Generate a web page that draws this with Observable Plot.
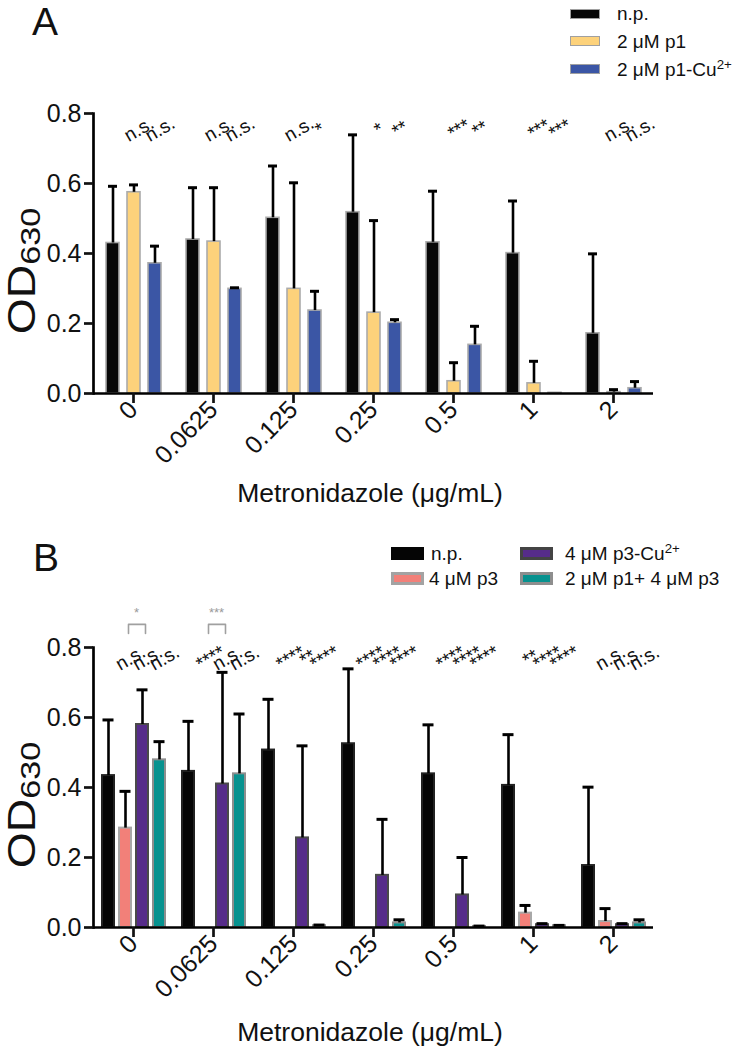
<!DOCTYPE html>
<html>
<head>
<meta charset="utf-8">
<script src="https://cdn.jsdelivr.net/npm/d3@7"></script>
<script src="https://cdn.jsdelivr.net/npm/@observablehq/plot@0.6"></script>
<style>
  body { margin: 0; background: #fff; }
  #root { position: relative; width: 735px; height: 1050px; overflow: hidden;
          font-family: "Liberation Sans", Arial, Helvetica, sans-serif; color: #111; }
  .abs { position: absolute; line-height: 1; white-space: nowrap; }
  .sw { position: absolute; box-sizing: border-box; }
  .panel { position: absolute; left: 0; }
  sup, sub { line-height: 0; }
</style>
</head>
<body>
<div id="root"></div>
<script>
// ---------------- data ----------------
const doses = ["0", "0.0625", "0.125", "0.25", "0.5", "1", "2"];

// Panel A
const seriesA = ["n.p.", "2 μM p1", "2 μM p1-Cu2+"];
const npA       = [0.430, 0.440, 0.502, 0.518, 0.432, 0.401, 0.172];
const npAErr    = [0.162, 0.148, 0.148, 0.221, 0.146, 0.149, 0.227];
const p1A       = [0.575, 0.434, 0.299, 0.231, 0.035, 0.029, 0.004];
const p1AErr    = [0.021, 0.154, 0.303, 0.263, 0.053, 0.063, 0.007];
const p1CuA     = [0.372, 0.299, 0.237, 0.202, 0.139, 0.002, 0.015];
const p1CuAErr  = [0.049, 0.003, 0.055, 0.009, 0.053, 0.000, 0.019];
const sigA_p1   = ["n.s.", "n.s.", "n.s.", "*", "***", "***", "n.s."];
const sigA_p1Cu = ["n.s.", "n.s.", "*", "**", "**", "***", "n.s."];

// Panel B
const seriesB = ["n.p.", "4 μM p3", "4 μM p3-Cu2+", "2 μM p1+ 4 μM p3"];
const npB       = [0.434, 0.446, 0.507, 0.525, 0.439, 0.406, 0.177];
const npBErr    = [0.159, 0.143, 0.145, 0.214, 0.140, 0.145, 0.224];
const p3B       = [0.284, 0.000, 0.000, 0.000, 0.000, 0.041, 0.017];
const p3BErr    = [0.105, 0.000, 0.000, 0.000, 0.000, 0.022, 0.037];
const p3CuB     = [0.580, 0.410, 0.256, 0.149, 0.093, 0.008, 0.008];
const p3CuBErr  = [0.099, 0.319, 0.263, 0.160, 0.107, 0.003, 0.003];
const mixB      = [0.479, 0.439, 0.005, 0.013, 0.003, 0.005, 0.013];
const mixBErr   = [0.052, 0.171, 0.002, 0.009, 0.001, 0.001, 0.009];
const sigB_p3   = ["n.s.", "****", "****", "****", "****", "**", "n.s."];
const sigB_p3Cu = ["n.s.", "n.s.", "**", "****", "****", "****", "n.s."];
const sigB_mix  = ["n.s.", "n.s.", "****", "****", "****", "****", "n.s."];
// p3 vs p3-Cu comparisons (grey brackets)
const bracketDoses  = ["0", "0.0625"];
const bracketLabels = ["*", "***"];

const yTicks = [0, 0.2, 0.4, 0.6, 0.8];

// ---------------- panel builder ----------------
function makePanel(cfg) {
  const rows = [];
  cfg.series.forEach((s, si) => doses.forEach((d, di) => {
    const v = cfg.means[si][di], e = cfg.errs[si][di];
    rows.push({dose: d, series: s, value: v, err: e, top: v + e});
  }));
  const withErr = rows.filter(r => r.err > 0);
  const sigRows = [];
  cfg.sigSeries.forEach((s, k) => doses.forEach((d, di) => sigRows.push({dose: d, series: s, text: cfg.sigs[k][di]})));

  const marks = [
    ...cfg.series.map((s, si) => Plot.barY(rows.filter(r => r.series === s && r.value > 0), {
      fx: "dose", x: "series", y: "value",
      fill: cfg.fills[si], stroke: cfg.strokes[si], strokeWidth: cfg.barStroke
    })),
    Plot.ruleX(withErr, {fx: "dose", x: "series", y1: "value", y2: "top", stroke: "#000", strokeWidth: 2.6}),
    Plot.tickY(withErr, {fx: "dose", x: "series", y: "top", stroke: "#000", strokeWidth: 3,
      insetLeft: cfg.capInset, insetRight: cfg.capInset}),
    Plot.ruleY([0], {stroke: "#000", strokeWidth: 2.7}),
    Plot.frame({anchor: "left", facetAnchor: "left", stroke: "#000", strokeWidth: 2.7}),
    Plot.axisY({ticks: yTicks, tickFormat: d3.format(".1f"), tickSize: 9, tickPadding: 3,
      fontSize: 25, strokeWidth: 2.7, label: null}),
    Plot.axisFx({anchor: "bottom", tickRotate: -45, tickSize: 10, tickPadding: 2,
      fontSize: 25, strokeWidth: 2.7, label: null}),
    Plot.text(sigRows, {fx: "dose", x: "series", y: cfg.sigY, text: "text", rotate: -30,
      dx: 5, fontSize: 19, fill: "#111"}),
    ...(cfg.extra || [])
  ];

  return Plot.plot({
    width: 735,
    height: cfg.height,
    marginLeft: 93,
    marginRight: 82,
    marginTop: cfg.marginTop,
    marginBottom: cfg.marginBottom,
    style: {fontFamily: '"Liberation Sans", Arial, sans-serif', color: "#111", background: "transparent", overflow: "visible"},
    fx: {domain: doses, padding: 0, label: null},
    x: {domain: cfg.series, paddingInner: cfg.padInner, paddingOuter: cfg.padOuter, axis: null},
    y: {domain: [0, 0.8], axis: null},
    marks
  });
}

// ---------------- panel A ----------------
const plotA = makePanel({
  series: seriesA,
  means: [npA, p1A, p1CuA],
  errs: [npAErr, p1AErr, p1CuAErr],
  fills: ["#070707", "#FDD27B", "#3B56A5"],
  strokes: ["#ababab", "#ababab", "#ababab"],
  barStroke: 1.6,
  capInset: 2,
  padInner: 0.395, padOuter: 0.558,
  sigSeries: [seriesA[1], seriesA[2]],
  sigs: [sigA_p1, sigA_p1Cu],
  sigY: 0.755,
  height: 470, marginTop: 113, marginBottom: 77
});

// ---------------- panel B ----------------
const bracketPts = [];
bracketDoses.forEach((d, i) => {
  bracketPts.push({id: i, dose: d, series: seriesB[1], y: 0.84});
  bracketPts.push({id: i, dose: d, series: seriesB[1], y: 0.866});
  bracketPts.push({id: i, dose: d, series: seriesB[2], y: 0.866});
  bracketPts.push({id: i, dose: d, series: seriesB[2], y: 0.84});
});
const bracketText = bracketDoses.map((d, i) => ({dose: d, series: seriesB[1], label: bracketLabels[i]}));

const plotB = makePanel({
  series: seriesB,
  means: [npB, p3B, p3CuB, mixB],
  errs: [npBErr, p3BErr, p3CuBErr, mixBErr],
  fills: ["#050505", "#F28079", "#562C8A", "#07928F"],
  strokes: ["#222222", "#a8a8a8", "#4a4a4a", "#8e8e8e"],
  barStroke: 2,
  capInset: 0.5,
  padInner: 0.31, padOuter: 0.467,
  sigSeries: [seriesB[1], seriesB[2], seriesB[3]],
  sigs: [sigB_p3, sigB_p3Cu, sigB_mix],
  sigY: 0.77,
  height: 470, marginTop: 117, marginBottom: 73,
  extra: [
    Plot.line(bracketPts, {fx: "dose", x: "series", y: "y", z: "id", dx: 3, stroke: "#a0a0a0", strokeWidth: 1.6}),
    Plot.text(bracketText, {fx: "dose", x: "series", y: 0.9, text: "label", dx: 11, fontSize: 13, fill: "#9a9a9a"})
  ]
});

// ---------------- layout ----------------
const root = document.getElementById("root");
function addPanel(svg, top) {
  const wrap = document.createElement("div");
  wrap.className = "panel";
  wrap.style.top = top + "px";
  wrap.appendChild(svg);
  root.appendChild(wrap);
}
addPanel(plotA, 0);
addPanel(plotB, 530);

function text(html, left, capCenter, size, extra = "") {
  const el = document.createElement("div");
  el.className = "abs";
  el.style.left = left + "px";
  el.style.top = (capCenter - 0.488 * size) + "px";
  el.style.fontSize = size + "px";
  if (extra) el.style.cssText += extra;
  el.innerHTML = html;
  root.appendChild(el);
  return el;
}
function swatch(left, center, w, h, fill, border, bw) {
  const el = document.createElement("div");
  el.className = "sw";
  el.style.left = left + "px";
  el.style.top = (center - h / 2) + "px";
  el.style.width = w + "px";
  el.style.height = h + "px";
  el.style.background = fill;
  el.style.border = bw + "px solid " + border;
  root.appendChild(el);
}
function rotLabel(cx, cy) {
  const el = document.createElement("div");
  el.className = "abs";
  el.style.left = cx + "px";
  el.style.top = cy + "px";
  el.style.fontSize = "38px";
  el.style.lineHeight = "0.9";
  el.style.transform = "translate(-50%,-50%) rotate(-90deg) scaleX(1.22)";
  el.innerHTML = 'OD<sub style="font-size:28px;vertical-align:-0.18em">630</sub>';
  root.appendChild(el);
}

// panel letters
text("A", 32, 21, 39);
text("B", 33, 557, 39);

// y titles
rotLabel(22, 271);
rotLabel(22, 805);

// x titles
const supCu = '<sup style="font-size:0.7em;vertical-align:0.5em">2+</sup>';
text("Metronidazole (μg/mL)", 370, 493, 26.5, "transform:translateX(-50%)");
text("Metronidazole (μg/mL)", 370, 1032, 26.5, "transform:translateX(-50%)");

// legend A
const legA = [[seriesA[0], "#070707"], ["2 μM p1", "#FDD27B"], ["2 μM p1-Cu" + supCu, "#3B56A5"]];
const legARows = [13.5, 41, 69];
legA.forEach(([lab, col], i) => {
  swatch(570, legARows[i], 30, 10, col, "#a0a0a0", 1.5);
  text(lab, 617, legARows[i], 19);
});

// legend B
swatch(391, 553.5, 33, 13, "#050505", "#050505", 1);
text("n.p.", 431, 553.5, 19);
swatch(391, 578.5, 33, 13, "#F28079", "#a3a3a3", 3);
text("4 μM p3", 429, 578.5, 19);
swatch(520, 553.5, 33, 13, "#562C8A", "#444444", 3);
text("4 μM p3-Cu" + supCu, 565, 553.5, 19);
swatch(520, 578.5, 33, 13, "#07928F", "#8e8e8e", 3);
text("2 μM p1+ 4 μM p3", 565, 578.5, 19);
</script>
</body>
</html>
